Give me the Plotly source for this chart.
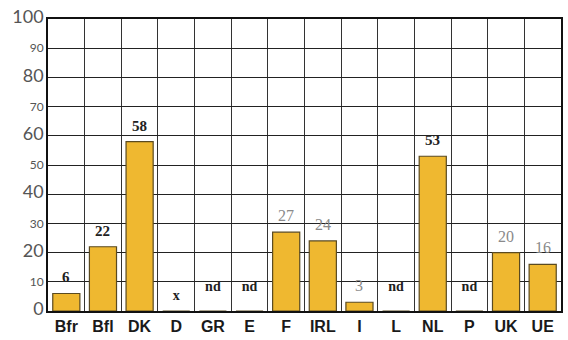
import plotly.graph_objs as go

countries = ['Bfr', 'Bfl', 'DK', 'D', 'GR', 'E', 'F', 'IRL', 'I', 'L', 'NL', 'P', 'UK', 'UE']
values = [6, 22, 58, None, None, None, 27, 24, 3, None, 53, None, 20, 16]
missing = ['', '', '', 'x', 'nd', 'nd', '', '', '', 'nd', '', 'nd', '', '']
bold_labels = ['Bfr', 'Bfl', 'DK', 'NL']

y_ticks = list(range(0, 101, 10))

xs = list(range(len(countries)))

fig = go.Figure()
fig.add_trace(go.Bar(
    x=xs,
    y=[v if v is not None else 0 for v in values],
    width=0.74,
    marker=dict(color='#EFB830', line=dict(color='#5a4a20', width=1.2)),
    hoverinfo='skip'
))

# missing data markers ("x" / "nd")
fig.add_trace(go.Scatter(
    x=[x for x, m in zip(xs, missing) if m],
    y=[5 if m == 'x' else 8 for m in missing if m],
    mode='text',
    text=['<b>%s</b>' % m for m in missing if m],
    textfont=dict(family='Liberation Serif', size=14, color='#222222'),
    hoverinfo='skip'
))

# value labels above bars
for x, c, v in zip(xs, countries, values):
    if v is None:
        continue
    bold = c in bold_labels
    fig.add_annotation(
        x=x, y=v, yanchor='bottom', yshift=6, showarrow=False,
        text=('<b>%d</b>' % v) if bold else str(v),
        font=dict(family='Liberation Serif', size=15 if bold else 16,
                  color='#222222' if bold else '#8a8a8a'),
    )

ticktext = []
for t in y_ticks:
    size = 18 if t % 20 == 0 else 12
    ticktext.append("<span style='font-size:%dpx'>%d</span>" % (size, t))

fig.update_layout(
    width=568,
    height=340,
    showlegend=False,
    plot_bgcolor='white',
    paper_bgcolor='white',
    margin=dict(l=48, r=5, t=19, b=28),
    xaxis=dict(
        range=[-0.5, len(countries) - 0.5],
        tickvals=xs,
        ticktext=['<b>%s</b>' % c for c in countries],
        tickfont=dict(family='Liberation Sans', size=16, color='#1a1a1a'),
        showgrid=False,
        zeroline=False,
        ticks='',
        showline=True,
        linecolor='#111111',
        linewidth=2,
        mirror=True,
        minor=dict(tickvals=[x + 0.5 for x in xs[:-1]], showgrid=True,
                   gridcolor='#333333', gridwidth=1.2),
    ),
    yaxis=dict(
        range=[0, 100],
        tickvals=y_ticks,
        ticktext=ticktext,
        tickfont=dict(family='Lato', color='#555555'),
        showgrid=True,
        gridcolor='#222222',
        gridwidth=1.3,
        zeroline=False,
        ticks='',
        showline=True,
        linecolor='#111111',
        linewidth=2,
        mirror=True,
    ),
)

fig.write_html("out.html", config={'displayModeBar': False},
               post_script="document.body.style.margin='0';")
